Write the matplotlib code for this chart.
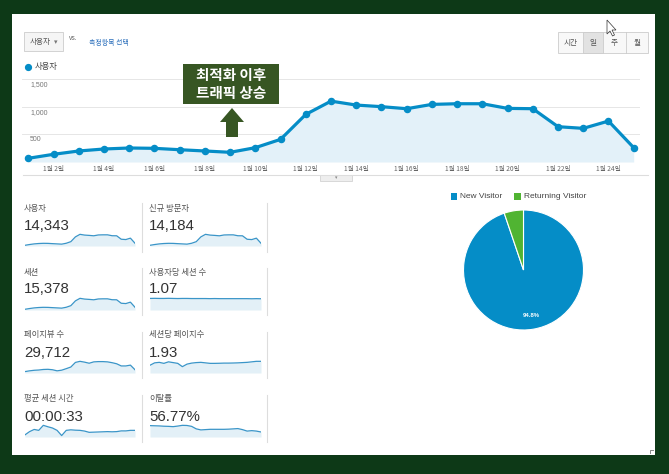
import matplotlib
matplotlib.use('Agg')
import matplotlib.pyplot as plt
from matplotlib.patches import Rectangle, Polygon
from matplotlib.lines import Line2D

plt.rcParams['font.family'] = ['Noto Sans CJK KR', 'DejaVu Sans']
NUM = ['Liberation Sans', 'DejaVu Sans']

W, H = 669, 474

# ---- data ----
days = list(range(1, 26))
users = [67, 139, 199, 235, 253, 247, 222, 199, 175, 259, 409, 860, 1100, 1029,
         1000, 963, 1041, 1053, 1053, 969, 963, 638, 608, 740, 259]
xtick_days = [2, 4, 6, 8, 10, 12, 14, 16, 18, 20, 22, 24]
xtick_labels = [f'1월 {d}일' for d in xtick_days]
ytick_vals = [500, 1000, 1500]

new_visitors = [66, 137, 196, 232, 250, 244, 219, 196, 173, 256, 405, 852, 1090, 1018,
                990, 952, 1030, 1042, 1042, 958, 952, 630, 600, 732, 255]
sessions = [72, 148, 212, 250, 270, 263, 237, 212, 187, 276, 436, 920, 1175, 1100,
            1068, 1028, 1112, 1125, 1125, 1035, 1028, 680, 648, 790, 276]
sessions_per_user = [1.08, 1.09, 1.08, 1.08, 1.09, 1.08, 1.07, 1.08, 1.08, 1.07, 1.07, 1.07,
                     1.07, 1.06, 1.07, 1.06, 1.06, 1.06, 1.06, 1.06, 1.06, 1.06, 1.05, 1.06, 1.05]
pageviews = [260, 400, 500, 550, 650, 680, 600, 400, 520, 800, 1100, 1950, 2150, 2000,
             1800, 2050, 2100, 2100, 2050, 1900, 1700, 1300, 1300, 1450, 600]
pages_per_session = [1.53, 2.0, 2.1, 1.9, 2.2, 2.05, 1.9, 1.25, 1.75, 1.95, 2.05, 2.1, 2.0,
                     1.9, 1.9, 1.92, 1.95, 1.95, 1.97, 2.0, 2.05, 2.1, 2.2, 2.3, 2.3]
avg_duration = [12, 30, 42, 37, 65, 57, 50, 37, 8, 37, 40, 38, 37, 33, 26, 27, 28, 29,
                30, 29, 30, 34, 34, 37, 37]
bounce_rate = [77, 76, 75, 73, 72, 70, 74, 79, 78, 72, 55, 48, 50, 52, 52, 52, 52, 53,
               55, 57, 50, 40, 43, 40, 34]

metric_titles = ['사용자', '신규 방문자', '세션', '사용자당 세션 수',
                 '페이지뷰 수', '세션당 페이지수', '평균 세션 시간', '이탈률']
metric_values = ['14,343', '14,184', '15,378', '1.07', '29,712', '1.93', '00:00:33', '56.77%']
metric_series = [users, new_visitors, sessions, sessions_per_user,
                 pageviews, pages_per_session, avg_duration, bounce_rate]

pie_labels = ['New Visitor', 'Returning Visitor']
pie_shares = [94.8, 5.2]

BLUE = '#058dc7'
GREEN = '#50b432'
FILL = '#e3f1f9'


def fx(x):
    return x / W


def fy(y):
    return 1 - y / H


def add_ax(x0, y0, x1, y1):
    a = fig.add_axes([x0 / W, 1 - y1 / H, (x1 - x0) / W, (y1 - y0) / H])
    a.patch.set_alpha(0)
    return a


def rect(x0, y0, x1, y1, **kw):
    fig.add_artist(Rectangle((fx(x0), fy(y1)), (x1 - x0) / W, (y1 - y0) / H,
                             transform=fig.transFigure, **kw))


def poly(pts, **kw):
    fig.add_artist(Polygon([(fx(x), fy(y)) for x, y in pts], closed=True,
                           transform=fig.transFigure, **kw))


def hline(x0, x1, y, **kw):
    fig.add_artist(Line2D([fx(x0), fx(x1)], [fy(y), fy(y)], transform=fig.transFigure, **kw))


def vline(x, y0, y1, **kw):
    fig.add_artist(Line2D([fx(x), fx(x)], [fy(y0), fy(y1)], transform=fig.transFigure, **kw))


fig = plt.figure(figsize=(W / 100, H / 100), dpi=100)
fig.patch.set_facecolor('#0d3917')

# white panel (behind the axes)
rect(12, 14, 655, 455, facecolor='white', edgecolor='none', zorder=-10)
# little resize mark in the corner
fig.add_artist(Line2D([fx(650), fx(650), fx(653)], [fy(453), fy(449.5), fy(449.5)],
                      transform=fig.transFigure, color='#888888', lw=0.7))

# top controls
rect(24, 32, 63, 51, facecolor='#f5f5f5', edgecolor='#cccccc', lw=0.6)
fig.text(fx(30), fy(42), '사용자', fontsize=5.5, color='#555555', va='center')
fig.text(fx(53.5), fy(42), '▾', fontsize=5, color='#777777', va='center')
fig.text(fx(69), fy(38.5), 'vs.', fontsize=4.8, color='#666666', va='center', family=NUM)
fig.text(fx(89), fy(42.5), '측정항목 선택', fontsize=5, color='#2a6ebb', va='center')

rect(558, 32, 648, 53, facecolor='#f8f8f8', edgecolor='#cccccc', lw=0.6)
rect(583, 32, 603, 53, facecolor='#e2e2e2', edgecolor='#cccccc', lw=0.6)
vline(626, 32, 53, color='#cccccc', lw=0.6)
for lbl, cx in zip(['시간', '일', '주', '월'], [570.5, 593, 614.5, 637]):
    fig.text(fx(cx), fy(43), lbl, fontsize=5.5, color='#555555', ha='center', va='center')

# mouse cursor
poly([(607, 20), (607, 34), (610, 31), (612.5, 36), (614.5, 35), (612, 30), (616, 30)],
     facecolor='white', edgecolor='#333333', lw=0.5)

# legend of main chart
fig.add_artist(Line2D([fx(28)], [fy(67)], marker='o', ms=4.2, color=BLUE,
                      transform=fig.transFigure))
fig.text(fx(35), fy(67), '사용자', fontsize=6, color='#444444', va='center')

# main chart
ax = add_ax(22, 79, 640, 162)
ax.fill_between(days, users, color=FILL, lw=0)
ax.plot(days, users, '-o', color=BLUE, lw=2.3, ms=4.4, clip_on=False, zorder=3)
ax.set_xlim(0.75, 25.25)
ax.set_ylim(0, 1500)
ax.set_yticks(ytick_vals)
ax.yaxis.grid(True, color='#e6e6e6', lw=0.7)
ax.set_axisbelow(True)
ax.tick_params(axis='y', length=0, labelleft=False)
ax.set_xticks(xtick_days, xtick_labels)
ax.tick_params(axis='x', length=0, pad=2.2, labelsize=4.8, labelcolor='#666666')
for s in ax.spines.values():
    s.set_visible(False)
for v in ytick_vals:
    ax.annotate(f'{v:,}', xy=(0.013, v), xycoords=('axes fraction', 'data'),
                xytext=(0, -1.5), textcoords='offset points', va='top',
                fontsize=5, color='#777777', family=NUM)

# separator and tab under main chart
hline(23, 648, 174.5, color='#dddddd', lw=0.8)
rect(320, 175, 352, 181, facecolor='#eeeeee', edgecolor='#cccccc', lw=0.5)
fig.text(fx(336), fy(177.5), '▾', fontsize=3.5, color='#888888', ha='center', va='center')

# annotation box and arrow
rect(183, 64, 279, 104, facecolor='#375623', edgecolor='none')
fig.text(fx(231), fy(75), '최적화 이후', fontsize=10.5, color='white', fontweight='bold',
         ha='center', va='center')
fig.text(fx(231), fy(93), '트래픽 상승', fontsize=10.5, color='white', fontweight='bold',
         ha='center', va='center')
poly([(226, 137), (238, 137), (238, 122), (244, 122), (232, 108), (220, 122), (226, 122)],
     facecolor='#375623', edgecolor='none')

# metric sparklines
col_x = [24, 149]
spark_x = [(25, 135), (150, 261)]
row_title_y = [208, 272, 335, 399]
row_value_y = [226, 289, 353, 417]
row_spark = [(232, 246), (296, 310), (359, 373), (423, 437)]
row_sep = [(203, 252), (268, 315), (332, 378), (395, 442)]

for i, (title, val, series) in enumerate(zip(metric_titles, metric_values, metric_series)):
    r, c = divmod(i, 2)
    fig.text(fx(col_x[c]), fy(row_title_y[r]), title, fontsize=6, color='#555555', va='center')
    fig.text(fx(col_x[c]), fy(row_value_y[r]), val, fontsize=10.8, color='#333333',
             va='center', family=NUM)
    sa = add_ax(spark_x[c][0], row_spark[r][0], spark_x[c][1], row_spark[r][1])
    sa.fill_between(days, series, color='#e3f0f7', lw=0)
    sa.plot(days, series, color='#3a95c8', lw=0.9)
    sa.set_xlim(1, 25)
    sa.set_ylim(0, max(series) * 1.2)
    sa.axis('off')

for r in range(4):
    for x in [142, 267]:
        vline(x, row_sep[r][0], row_sep[r][1], color='#dddddd', lw=0.8)

# pie legend
for lbl, col, sx in zip(pie_labels, [BLUE, GREEN], [450.5, 514]):
    rect(sx, 193, sx + 6.5, 199.5, facecolor=col, edgecolor='none')
    fig.text(fx(sx + 10), fy(196.3), lbl, fontsize=6, color='#444444', va='center', family=NUM)

# pie
pa = add_ax(463.5, 210, 583.5, 330)
wedges, texts, autotexts = pa.pie(
    pie_shares, colors=[BLUE, GREEN], startangle=90, counterclock=False, radius=1,
    autopct=lambda p: f'{p:.1f}%' if p > 10 else '', pctdistance=0.77,
    wedgeprops=dict(edgecolor='white', linewidth=0.8),
    textprops=dict(color='white', fontsize=4.3, fontweight='bold', family=NUM))
pa.set_xlim(-1, 1)
pa.set_ylim(-1, 1)
pa.set_aspect('equal')

fig.savefig('out.png', dpi=100, facecolor=fig.get_facecolor())
